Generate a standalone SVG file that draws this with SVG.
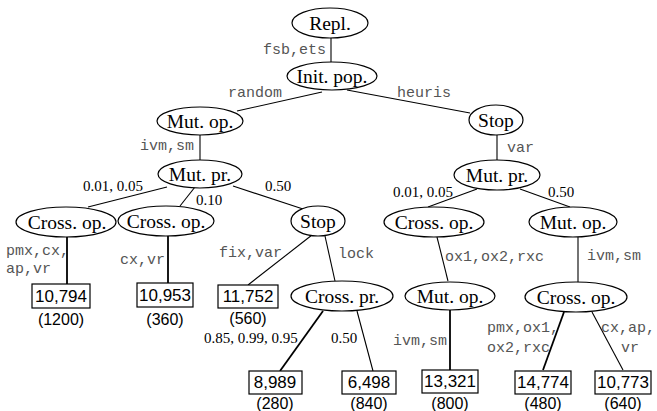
<svg xmlns="http://www.w3.org/2000/svg" width="657" height="411" viewBox="0 0 657 411">
<style>
.n ellipse{fill:#fff;stroke:#000;stroke-width:1.2}
.n text{font-family:"Liberation Serif",serif;font-size:19.5px;text-anchor:middle;fill:#000}
.leaf rect{fill:#fff;stroke:#000;stroke-width:1.2}
.leaf text{font-family:"Liberation Sans",Arial,sans-serif;font-size:17px;text-anchor:middle;fill:#000}
.leaf .c{font-size:16px}
.e line{stroke:#000;stroke-width:1.1}
.e line.t{stroke-width:1.8}
.m{font-family:"Liberation Mono",monospace;font-size:15px;fill:#555}
.s{font-family:"Liberation Serif",serif;font-size:15px;fill:#000}
</style>
<rect width="657" height="411" fill="#fff"/>
<g id="connectors" class="e">
<line x1="331" y1="38" x2="331" y2="62"/>
<line x1="322" y1="92" x2="237" y2="111"/>
<line x1="347" y1="90" x2="470" y2="113"/>
<line x1="200" y1="135" x2="200" y2="160"/>
<line x1="497" y1="135" x2="497" y2="160"/>
<line x1="167" y1="187" x2="88" y2="207"/>
<line x1="195" y1="187" x2="180" y2="206"/>
<line x1="233" y1="186" x2="303" y2="209"/>
<line x1="477" y1="189" x2="428" y2="207"/>
<line x1="520" y1="189" x2="570" y2="207"/>
<line class="t" x1="67" y1="237" x2="67" y2="284"/>
<line class="t" x1="168" y1="236" x2="168" y2="283"/>
<line x1="312" y1="235" x2="248" y2="285"/>
<line x1="325" y1="236" x2="335" y2="281"/>
<line class="t" x1="323" y1="311" x2="280" y2="371"/>
<line x1="357" y1="311" x2="373" y2="371"/>
<line x1="437" y1="237" x2="448" y2="281"/>
<line class="t" x1="450" y1="310" x2="450" y2="370"/>
<line x1="578" y1="237" x2="578" y2="282"/>
<line class="t" x1="564" y1="312" x2="543" y2="370"/>
<line x1="592" y1="312" x2="623" y2="370"/>
</g>
<g id="edge-labels">
<text class="m" x="263" y="54">fsb,ets</text>
<text class="m" x="228" y="97">random</text>
<text class="m" x="397" y="97">heuris</text>
<text class="m" x="140" y="150">ivm,sm</text>
<text class="m" x="507" y="152">var</text>
<text class="m" x="6" y="255">pmx,cx,</text>
<text class="m" x="6" y="273">ap,vr</text>
<text class="m" x="120" y="264">cx,vr</text>
<text class="m" x="219" y="257">fix,var</text>
<text class="m" x="338" y="258">lock</text>
<text class="m" x="445" y="261">ox1,ox2,rxc</text>
<text class="m" x="587" y="260">ivm,sm</text>
<text class="m" x="393" y="345">ivm,sm</text>
<text class="m" x="487" y="332">pmx,ox1,</text>
<text class="m" x="487" y="352">ox2,rxc</text>
<text class="m" x="601" y="332">cx,ap,</text>
<text class="m" x="630" y="352" text-anchor="middle">vr</text>
<text class="s" x="83" y="191">0.01, 0.05</text>
<text class="s" x="196" y="205">0.10</text>
<text class="s" x="265" y="191">0.50</text>
<text class="s" x="393" y="197">0.01, 0.05</text>
<text class="s" x="548" y="197">0.50</text>
<text class="s" x="204" y="343">0.85, 0.99, 0.95</text>
<text class="s" x="331" y="343">0.50</text>
</g>
<g id="repl" class="n"><ellipse cx="330" cy="23" rx="38" ry="15"/><text x="330" y="30">Repl.</text></g>
<g id="initpop" class="n"><ellipse cx="332" cy="76" rx="45" ry="14"/><text x="332" y="83">Init. pop.</text></g>
<g id="mutop1" class="n"><ellipse cx="200" cy="121" rx="43" ry="14"/><text x="200" y="128">Mut. op.</text></g>
<g id="stop1" class="n"><ellipse cx="496" cy="120" rx="27" ry="15"/><text x="496" y="127">Stop</text></g>
<g id="mutpr1" class="n"><ellipse cx="200" cy="174" rx="42" ry="14"/><text x="200" y="181">Mut. pr.</text></g>
<g id="mutpr2" class="n"><ellipse cx="497" cy="175" rx="43" ry="15"/><text x="497" y="182">Mut. pr.</text></g>
<g id="cross1" class="n"><ellipse cx="66" cy="222" rx="50" ry="15"/><text x="67" y="229">Cross. op.</text></g>
<g id="cross2" class="n"><ellipse cx="166" cy="221" rx="48" ry="15"/><text x="166" y="228">Cross. op.</text></g>
<g id="stop2" class="n"><ellipse cx="318" cy="221" rx="27" ry="15"/><text x="318" y="228">Stop</text></g>
<g id="cross3" class="n"><ellipse cx="434" cy="222" rx="50" ry="15"/><text x="434" y="229">Cross. op.</text></g>
<g id="mutop2" class="n"><ellipse cx="573" cy="222" rx="44" ry="15"/><text x="573" y="229">Mut. op.</text></g>
<g id="crosspr" class="n"><ellipse cx="342" cy="296" rx="51" ry="15"/><text x="342" y="303">Cross. pr.</text></g>
<g id="mutop3" class="n"><ellipse cx="450" cy="296" rx="45" ry="14"/><text x="450" y="303">Mut. op.</text></g>
<g id="cross4" class="n"><ellipse cx="576" cy="297" rx="51" ry="15"/><text x="576" y="304">Cross. op.</text></g>
<g id="leaf1" class="leaf"><rect x="32" y="284" width="58" height="24"/><text x="61" y="302">10,794</text><text class="c" x="61" y="325">(1200)</text></g>
<g id="leaf2" class="leaf"><rect x="137" y="283" width="56" height="24"/><text x="165" y="301">10,953</text><text class="c" x="165" y="325">(360)</text></g>
<g id="leaf3" class="leaf"><rect x="218" y="285" width="60" height="23"/><text x="248" y="302">11,752</text><text class="c" x="248" y="324">(560)</text></g>
<g id="leaf4" class="leaf"><rect x="249" y="371" width="53" height="23"/><text x="275" y="388">8,989</text><text class="c" x="275" y="409">(280)</text></g>
<g id="leaf5" class="leaf"><rect x="342" y="371" width="54" height="23"/><text x="369" y="388">6,498</text><text class="c" x="369" y="409">(840)</text></g>
<g id="leaf6" class="leaf"><rect x="422" y="370" width="56" height="23"/><text x="450" y="387">13,321</text><text class="c" x="450" y="409">(800)</text></g>
<g id="leaf7" class="leaf"><rect x="515" y="371" width="56" height="23"/><text x="543" y="388">14,774</text><text class="c" x="543" y="409">(480)</text></g>
<g id="leaf8" class="leaf"><rect x="595" y="371" width="56" height="23"/><text x="623" y="388">10,773</text><text class="c" x="623" y="409">(640)</text></g>
</svg>
